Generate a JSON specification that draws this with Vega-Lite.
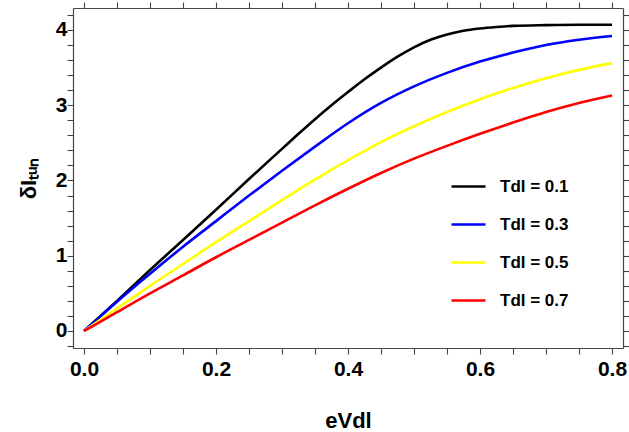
{
  "$schema": "https://vega.github.io/schema/vega-lite/v6.json",
  "autosize": {"type": "none"},
  "width": 550,
  "height": 340,
  "padding": {"left": 73, "top": 8, "right": 6, "bottom": 84},
  "background": "white",
  "config": {
    "view": {"stroke": null},
    "font": "Liberation Sans",
    "axis": {"grid": false, "domainColor": "#444", "domainWidth": 1.2, "tickColor": "#444", "tickWidth": 1.1, "tickSize": 6, "labelFont": "Liberation Sans", "labelFontWeight": "bold", "labelFontSize": 21, "labelColor": "#000", "titleFont": "Liberation Sans", "titleFontWeight": "bold", "titleFontSize": 22, "titleColor": "#000", "labelFlush": false, "labelOverlap": false}
  },
  "data": {"values": [
    {"T": "0.1", "x": 0, "y": 0}, {"T": "0.1", "x": 0.05, "y": 0.40}, {"T": "0.1", "x": 0.1, "y": 0.81}, {"T": "0.1", "x": 0.15, "y": 1.21}, {"T": "0.1", "x": 0.2, "y": 1.61}, {"T": "0.1", "x": 0.25, "y": 2.02}, {"T": "0.1", "x": 0.3, "y": 2.42}, {"T": "0.1", "x": 0.325, "y": 2.62}, {"T": "0.1", "x": 0.35, "y": 2.815}, {"T": "0.1", "x": 0.375, "y": 3.00}, {"T": "0.1", "x": 0.4, "y": 3.175}, {"T": "0.1", "x": 0.425, "y": 3.345}, {"T": "0.1", "x": 0.45, "y": 3.50}, {"T": "0.1", "x": 0.475, "y": 3.645}, {"T": "0.1", "x": 0.5, "y": 3.77}, {"T": "0.1", "x": 0.525, "y": 3.87}, {"T": "0.1", "x": 0.55, "y": 3.94}, {"T": "0.1", "x": 0.575, "y": 3.99}, {"T": "0.1", "x": 0.6, "y": 4.02}, {"T": "0.1", "x": 0.625, "y": 4.04}, {"T": "0.1", "x": 0.65, "y": 4.055}, {"T": "0.1", "x": 0.7, "y": 4.065}, {"T": "0.1", "x": 0.75, "y": 4.07}, {"T": "0.1", "x": 0.8, "y": 4.07},
    {"T": "0.3", "x": 0, "y": 0}, {"T": "0.3", "x": 0.05, "y": 0.39}, {"T": "0.3", "x": 0.1, "y": 0.76}, {"T": "0.3", "x": 0.15, "y": 1.12}, {"T": "0.3", "x": 0.2, "y": 1.46}, {"T": "0.3", "x": 0.25, "y": 1.80}, {"T": "0.3", "x": 0.3, "y": 2.13}, {"T": "0.3", "x": 0.35, "y": 2.45}, {"T": "0.3", "x": 0.4, "y": 2.76}, {"T": "0.3", "x": 0.45, "y": 3.03}, {"T": "0.3", "x": 0.5, "y": 3.25}, {"T": "0.3", "x": 0.55, "y": 3.43}, {"T": "0.3", "x": 0.6, "y": 3.58}, {"T": "0.3", "x": 0.65, "y": 3.70}, {"T": "0.3", "x": 0.7, "y": 3.80}, {"T": "0.3", "x": 0.75, "y": 3.87}, {"T": "0.3", "x": 0.8, "y": 3.92},
    {"T": "0.5", "x": 0, "y": 0}, {"T": "0.5", "x": 0.05, "y": 0.30}, {"T": "0.5", "x": 0.1, "y": 0.60}, {"T": "0.5", "x": 0.15, "y": 0.89}, {"T": "0.5", "x": 0.2, "y": 1.18}, {"T": "0.5", "x": 0.25, "y": 1.46}, {"T": "0.5", "x": 0.3, "y": 1.74}, {"T": "0.5", "x": 0.35, "y": 2.01}, {"T": "0.5", "x": 0.4, "y": 2.27}, {"T": "0.5", "x": 0.45, "y": 2.51}, {"T": "0.5", "x": 0.5, "y": 2.72}, {"T": "0.5", "x": 0.55, "y": 2.91}, {"T": "0.5", "x": 0.6, "y": 3.08}, {"T": "0.5", "x": 0.65, "y": 3.23}, {"T": "0.5", "x": 0.7, "y": 3.36}, {"T": "0.5", "x": 0.75, "y": 3.47}, {"T": "0.5", "x": 0.8, "y": 3.56},
    {"T": "0.7", "x": 0, "y": 0}, {"T": "0.7", "x": 0.05, "y": 0.25}, {"T": "0.7", "x": 0.1, "y": 0.50}, {"T": "0.7", "x": 0.15, "y": 0.74}, {"T": "0.7", "x": 0.2, "y": 0.98}, {"T": "0.7", "x": 0.25, "y": 1.21}, {"T": "0.7", "x": 0.3, "y": 1.44}, {"T": "0.7", "x": 0.35, "y": 1.67}, {"T": "0.7", "x": 0.4, "y": 1.89}, {"T": "0.7", "x": 0.45, "y": 2.10}, {"T": "0.7", "x": 0.5, "y": 2.29}, {"T": "0.7", "x": 0.55, "y": 2.46}, {"T": "0.7", "x": 0.6, "y": 2.62}, {"T": "0.7", "x": 0.65, "y": 2.77}, {"T": "0.7", "x": 0.7, "y": 2.91}, {"T": "0.7", "x": 0.75, "y": 3.03}, {"T": "0.7", "x": 0.8, "y": 3.13}
  ]},
  "resolve": {"axis": {"x": "independent", "y": "independent"}},
  "layer": [
    {
      "mark": {"type": "line", "strokeWidth": 2.6, "interpolate": "monotone"},
      "encoding": {
        "x": {"field": "x", "type": "quantitative",
          "scale": {"domain": [-0.01667, 0.81667], "nice": false, "zero": false},
          "axis": {"orient": "bottom", "title": "eVdl", "values": [0, 0.05, 0.1, 0.15, 0.2, 0.25, 0.3, 0.35, 0.4, 0.45, 0.5, 0.55, 0.6, 0.65, 0.7, 0.75, 0.8],
            "labelExpr": "abs(datum.value*5 - round(datum.value*5)) < 0.01 ? format(datum.value, '.1f') : ''",
            "labelPadding": 4, "titlePadding": 31,
            "encode": {"ticks": {"update": {"y2": {"signal": "abs(datum.value*5 - round(datum.value*5)) < 0.01 ? -6 : -3.5"}}}}}},
        "y": {"field": "y", "type": "quantitative",
          "scale": {"domain": [-0.226, 4.292], "nice": false, "zero": false},
          "axis": {"orient": "left", "title": "δIₜᵤₙ", "values": [-0.2, 0, 0.2, 0.4, 0.6, 0.8, 1, 1.2, 1.4, 1.6, 1.8, 2, 2.2, 2.4, 2.6, 2.8, 3, 3.2, 3.4, 3.6, 3.8, 4, 4.2],
            "labelExpr": "abs(datum.value - round(datum.value)) < 0.01 ? format(datum.value, 'd') : ''",
            "labelPadding": 0, "titlePadding": 15,
            "encode": {"ticks": {"update": {"x2": {"signal": "abs(datum.value - round(datum.value)) < 0.01 ? 6.5 : 4"}}}}}},
        "color": {"field": "T", "type": "nominal",
          "scale": {"domain": ["0.1", "0.3", "0.5", "0.7"], "range": ["#000000", "#0000ff", "#ffff00", "#ff0000"]},
          "legend": {"orient": "none", "legendX": 377, "legendY": 160, "title": null, "padding": 0,
            "symbolType": "stroke", "symbolSize": 1156, "symbolStrokeWidth": 2.6,
            "labelExpr": "'Tdl = ' + datum.label", "labelFont": "Liberation Sans", "labelFontWeight": "bold", "labelFontSize": 17, "labelColor": "#000",
            "labelOffset": 13, "rowPadding": 11}}
      }
    },
    {
      "mark": {"type": "point", "opacity": 0},
      "encoding": {
        "x": {"field": "x", "type": "quantitative",
          "axis": {"orient": "top", "title": null, "labels": false, "values": [0, 0.05, 0.1, 0.15, 0.2, 0.25, 0.3, 0.35, 0.4, 0.45, 0.5, 0.55, 0.6, 0.65, 0.7, 0.75, 0.8],
            "encode": {"ticks": {"update": {"y2": {"signal": "abs(datum.value*5 - round(datum.value*5)) < 0.01 ? 6 : 3.5"}}}}}},
        "y": {"field": "y", "type": "quantitative",
          "axis": {"orient": "right", "title": null, "labels": false, "values": [-0.2, 0, 0.2, 0.4, 0.6, 0.8, 1, 1.2, 1.4, 1.6, 1.8, 2, 2.2, 2.4, 2.6, 2.8, 3, 3.2, 3.4, 3.6, 3.8, 4, 4.2],
            "encode": {"ticks": {"update": {"x2": {"signal": "abs(datum.value - round(datum.value)) < 0.01 ? -6.5 : -4"}}}}}}
      }
    }
  ]
}
